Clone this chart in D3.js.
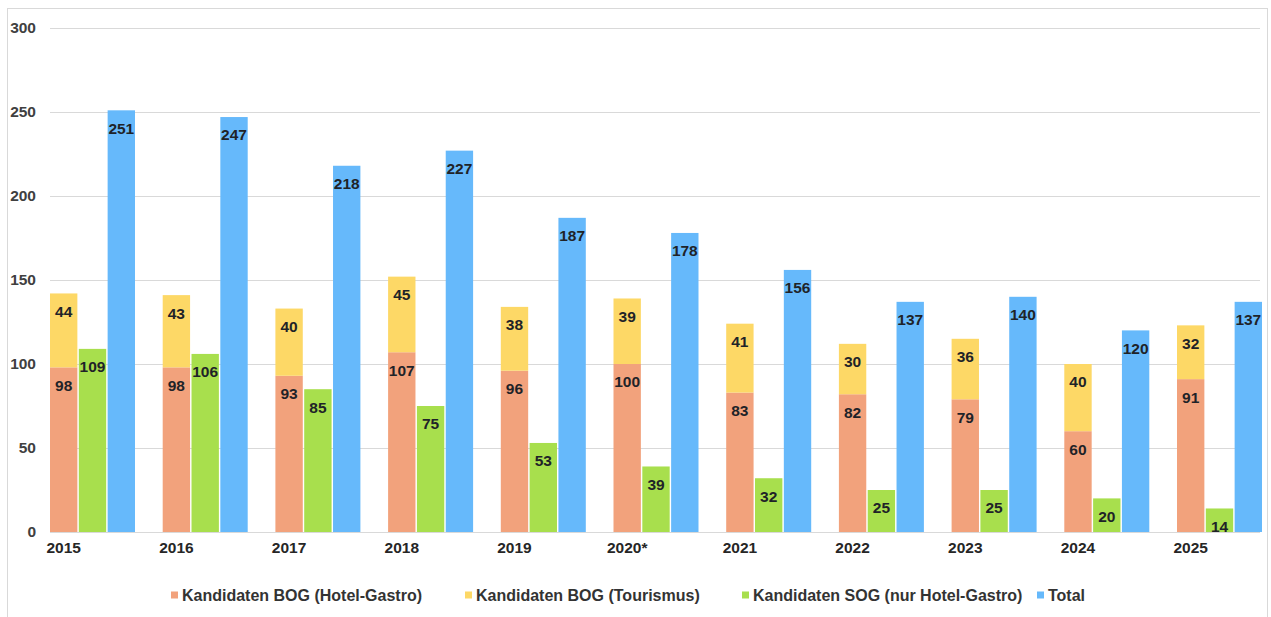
<!DOCTYPE html>
<html>
<head>
<meta charset="utf-8">
<script src="https://cdn.jsdelivr.net/npm/d3@7"></script>
<style>
  body { margin: 0; background: #fff; }
  text { font-family: "Liberation Sans", Arial, sans-serif; font-weight: bold; }
</style>
</head>
<body>
<div id="chart"></div>
<script>
WIDTH = 1271;
HEIGHT = 617;

// data
var years = ["2015", "2016", "2017", "2018", "2019", "2020*", "2021", "2022", "2023", "2024", "2025"];
var bogHotel = [98, 98, 93, 107, 96, 100, 83, 82, 79, 60, 91];
var bogTourismus = [44, 43, 40, 45, 38, 39, 41, 30, 36, 40, 32];
var sogHotel = [109, 106, 85, 75, 53, 39, 32, 25, 25, 20, 14];
var total = [251, 247, 218, 227, 187, 178, 156, 137, 140, 120, 137];
var yTicks = [0, 50, 100, 150, 200, 250, 300];

var seriesNames = [
  "Kandidaten BOG (Hotel-Gastro)",
  "Kandidaten BOG (Tourismus)",
  "Kandidaten SOG (nur Hotel-Gastro)",
  "Total"
];
var colors = ["#F2A27C", "#FDD866", "#A8DF4D", "#66B9FB"];

var svg = d3.select("#chart").append("svg")
  .attr("width", WIDTH)
  .attr("height", HEIGHT);

// frame
svg.append("rect")
  .attr("x", 7.5).attr("y", 8.5)
  .attr("width", 1260).attr("height", 640)
  .attr("fill", "none").attr("stroke", "#d9d9d9");

var plotLeft = 50, plotRight = 1260;
var step = 112.7;

var x = d3.scaleBand()
  .domain(years)
  .range([plotLeft, plotLeft + step * years.length])
  .paddingInner(0).paddingOuter(0);

var sub = d3.scaleBand()
  .domain(["hotel", "sog", "total"])
  .range([0, 85])
  .paddingInner(0.05);

var y = d3.scaleLinear().domain([0, 300]).range([532, 28]);

// gridlines
svg.append("g")
  .selectAll("line")
  .data(yTicks)
  .join("line")
  .attr("x1", plotLeft).attr("x2", plotRight)
  .attr("y1", d => y(d) + 0.5).attr("y2", d => y(d) + 0.5)
  .attr("stroke", "#d9d9d9").attr("stroke-width", 1.2);

// y tick labels
svg.append("g")
  .selectAll("text")
  .data(yTicks)
  .join("text")
  .attr("x", 36)
  .attr("y", d => y(d))
  .attr("dy", "0.35em")
  .attr("text-anchor", "end")
  .attr("font-size", 15.5)
  .attr("fill", "#404040")
  .text(d => d);

var rows = years.map(function(yr, i) {
  return { year: yr, hotel: bogHotel[i], tour: bogTourismus[i], sog: sogHotel[i], total: total[i] };
});

var bars = [];
rows.forEach(function(r) {
  bars.push({ year: r.year, key: "hotel", y0: 0, y1: r.hotel, v: r.hotel, c: colors[0] });
  bars.push({ year: r.year, key: "hotel", y0: r.hotel, y1: r.hotel + r.tour, v: r.tour, c: colors[1] });
  bars.push({ year: r.year, key: "sog", y0: 0, y1: r.sog, v: r.sog, c: colors[2] });
  bars.push({ year: r.year, key: "total", y0: 0, y1: r.total, v: r.total, c: colors[3] });
});

var bar_g = svg.append("g");
bar_g.selectAll("rect")
  .data(bars)
  .join("rect")
  .attr("x", d => x(d.year) + sub(d.key))
  .attr("width", sub.bandwidth())
  .attr("y", d => y(d.y1))
  .attr("height", d => y(d.y0) - y(d.y1))
  .attr("fill", d => d.c);

// value labels (inside end)
bar_g.selectAll("text")
  .data(bars)
  .join("text")
  .attr("x", d => x(d.year) + sub(d.key) + sub.bandwidth() / 2)
  .attr("y", d => y(d.y1) + 18)
  .attr("dy", "0.35em")
  .attr("text-anchor", "middle")
  .attr("font-size", 15.5)
  .attr("fill", "#1f2328")
  .text(d => d.v);

// x labels
svg.append("g")
  .selectAll("text")
  .data(years)
  .join("text")
  .attr("x", d => x(d) + sub("hotel") + sub.bandwidth() / 2)
  .attr("y", 548)
  .attr("dy", "0.35em")
  .attr("text-anchor", "middle")
  .attr("font-size", 15.5)
  .attr("fill", "#262626")
  .text(d => d);

// legend
var legendX = [171, 465, 742, 1037];
var legend = svg.append("g")
  .selectAll("g")
  .data(seriesNames)
  .join("g")
  .attr("transform", (d, i) => "translate(" + legendX[i] + ",595)");

legend.append("rect")
  .attr("x", 0).attr("y", -3.5)
  .attr("width", 7).attr("height", 7)
  .attr("fill", (d, i) => colors[i]);

legend.append("text")
  .attr("x", 11)
  .attr("y", 0)
  .attr("dy", "0.35em")
  .attr("font-size", 16)
  .attr("fill", "#333")
  .text(d => d);
</script>
</body>
</html>
